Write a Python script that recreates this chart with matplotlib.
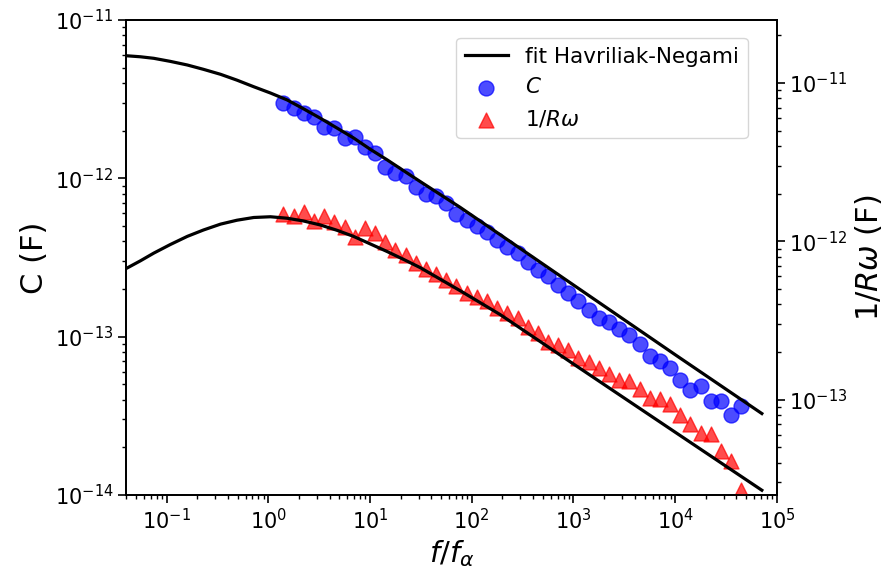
import matplotlib
matplotlib.use("Agg")
import matplotlib.pyplot as plt

# normalised frequency of the measured points
f_data = [1.41, 1.78, 2.24, 2.82, 3.55, 4.47, 5.62, 7.08, 8.91, 11.2,
          14.1, 17.8, 22.4, 28.2, 35.5, 44.7, 56.2, 70.8, 89.1, 112,
          141, 178, 224, 282, 355, 447, 562, 708, 891, 1120,
          1410, 1780, 2240, 2820, 3550, 4470, 5620, 7080, 8910, 11200,
          14100, 17800, 22400, 28200, 35500, 44700]

# capacitance C (F), left axis
C_data = [3.01e-12, 2.80e-12, 2.60e-12, 2.43e-12, 2.12e-12, 2.07e-12, 1.80e-12, 1.82e-12, 1.57e-12, 1.44e-12,
          1.18e-12, 1.08e-12, 1.04e-12, 8.87e-13, 7.98e-13, 7.76e-13, 6.98e-13, 5.97e-13, 5.42e-13, 4.97e-13,
          4.55e-13, 4.06e-13, 3.70e-13, 3.36e-13, 2.96e-13, 2.62e-13, 2.43e-13, 2.13e-13, 1.90e-13, 1.69e-13,
          1.47e-13, 1.31e-13, 1.23e-13, 1.12e-13, 1.03e-13, 9.04e-14, 7.59e-14, 6.98e-14, 6.34e-14, 5.30e-14,
          4.58e-14, 4.85e-14, 3.91e-14, 3.91e-14, 3.22e-14, 3.63e-14]

# 1/(R omega) (F), right axis
Rw_data = [1.49e-12, 1.45e-12, 1.53e-12, 1.35e-12, 1.44e-12, 1.32e-12, 1.23e-12, 1.06e-12, 1.22e-12, 1.13e-12,
           9.85e-13, 8.85e-13, 8.23e-13, 7.30e-13, 6.68e-13, 6.23e-13, 5.73e-13, 5.20e-13, 4.75e-13, 4.45e-13,
           4.18e-13, 3.80e-13, 3.55e-13, 3.28e-13, 2.88e-13, 2.63e-13, 2.33e-13, 2.23e-13, 2.05e-13, 1.84e-13,
           1.73e-13, 1.59e-13, 1.46e-13, 1.34e-13, 1.31e-13, 1.17e-13, 1.03e-13, 1.01e-13, 9.45e-14, 7.95e-14,
           6.98e-14, 6.18e-14, 6.03e-14, 4.73e-14, 4.08e-14, 2.70e-14]

# Havriliak-Negami fit curves
f_fit = [0.04, 0.0553, 0.075, 0.109, 0.16, 0.231, 0.34, 0.493, 0.72, 1.05,
         1.53, 2.22, 3.24, 4.73, 6.89, 10.0, 14.7, 21.3, 31.1, 76.9,
         190, 1000, 10000, 71000]
C_fit = [5.95e-12, 5.86e-12, 5.73e-12, 5.48e-12, 5.20e-12, 4.88e-12, 4.54e-12, 4.17e-12, 3.79e-12, 3.46e-12,
         3.13e-12, 2.75e-12, 2.40e-12, 2.08e-12, 1.80e-12, 1.53e-12, 1.31e-12, 1.12e-12, 9.55e-13, 6.56e-13,
         4.41e-13, 2.12e-13, 7.69e-14, 3.27e-14]
Rw_fit = [6.73e-13, 7.53e-13, 8.43e-13, 9.55e-13, 1.075e-12, 1.18e-12, 1.285e-12, 1.36e-12, 1.415e-12, 1.43e-12,
          1.40e-12, 1.345e-12, 1.27e-12, 1.175e-12, 1.075e-12, 9.65e-13, 8.63e-13, 7.70e-13, 6.83e-13, 4.88e-13,
          3.45e-13, 1.68e-13, 6.23e-14, 2.68e-14]

fig, ax = plt.subplots(figsize=(8.9, 5.72), dpi=100)
fig.subplots_adjust(left=0.1416, right=0.873, top=0.965, bottom=0.1346)
ax2 = ax.twinx()

sc1 = ax.scatter(f_data, C_data, s=115, color="blue", alpha=0.7, zorder=2)
line, = ax.plot(f_fit, C_fit, color="black", lw=2.3, zorder=3)

sc2 = ax2.scatter(f_data, Rw_data, s=115, marker="^", color="red", alpha=0.7, zorder=2)
ax2.plot(f_fit, Rw_fit, color="black", lw=2.3, zorder=3)

for a in (ax, ax2):
    a.set_xscale("log")
    a.set_yscale("log")
    a.tick_params(which="major", labelsize=15, length=5.5, width=1.2)
    a.tick_params(which="minor", length=3, width=1)
    for s in a.spines.values():
        s.set_linewidth(1.3)

ax.set_xlim(0.04, 1e5)
ax.set_ylim(1e-14, 1e-11)
ax2.set_ylim(2.5e-14, 2.5e-11)

ax.set_xlabel(r"$f/f_\alpha$", fontsize=21)
ax.set_ylabel("C (F)", fontsize=22)
ax2.set_ylabel(r"$1/R\omega$ (F)", fontsize=22)

ax2.legend([line, sc1, sc2], ["fit Havriliak-Negami", "$C$", r"$1/R\omega$"],
           loc="upper right", bbox_to_anchor=(0.955, 0.962), borderaxespad=0, fontsize=15.5)

plt.savefig("out.png", dpi=100)
